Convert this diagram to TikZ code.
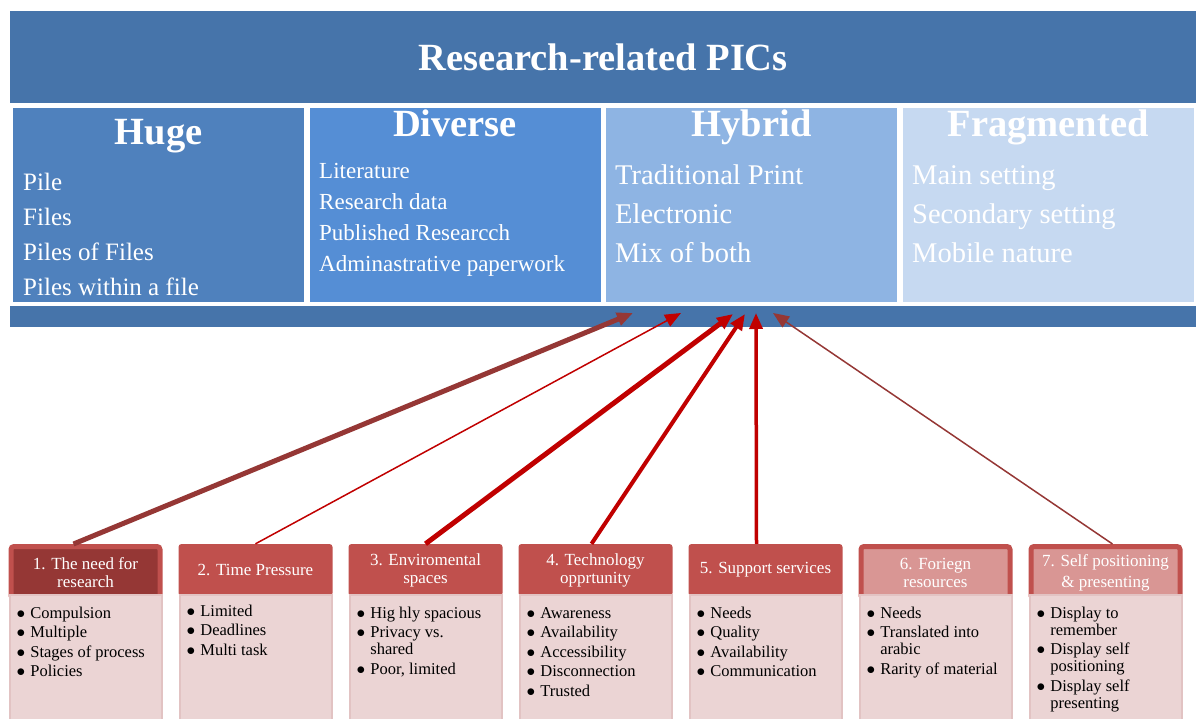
\documentclass[tikz,border=0pt]{standalone}
\usepackage{fontspec}
\setmainfont{Liberation Serif}
\usetikzlibrary{arrows.meta,calc}
\definecolor{bannerBlue}{HTML}{4674AA}
\definecolor{colHuge}{HTML}{4F81BD}
\definecolor{colDiverse}{HTML}{558ED5}
\definecolor{colHybrid}{HTML}{8EB4E3}
\definecolor{colFrag}{HTML}{C6D9F1}
\definecolor{headRed}{HTML}{C0504D}
\definecolor{headDark}{HTML}{953735}
\definecolor{headPink}{HTML}{D99694}
\definecolor{bodyPink}{HTML}{EBD4D4}
\definecolor{bodyEdge}{HTML}{E2C3C3}
\definecolor{arrowDark}{HTML}{953735}
\definecolor{arrowRed}{HTML}{C00000}
\newcommand{\bitem}[1]{$\bullet$ & #1\\[2.5pt]}
\newcommand{\bwrap}[2]{$\bullet$ & #1\\ & #2\\[2.5pt]}

\begin{document}
\begin{tikzpicture}[x=1pt, y=-1pt,
  banner/.style={fill=bannerBlue, inner sep=0pt, minimum width=1186pt},
  panel/.style={inner sep=0pt, minimum width=291pt, minimum height=194pt},
  panelhead/.style={text=white, anchor=base, inner sep=0pt, font=\fontsize{38.5}{40}\selectfont\bfseries},
  panelitem/.style={text=white, anchor=base west, inner sep=0pt},
  hdPlain/.style={fill=headRed, text=white, rounded corners=3pt, minimum width=154pt, minimum height=52pt,
    align=center, inner sep=0pt, font=\fontsize{17}{18}\selectfont},
  hdDark/.style={hdPlain, fill=headDark, draw=headRed, line width=5pt, minimum width=149pt, yshift=-2.5pt},
  hdPink/.style={hdDark, fill=headPink},
  body/.style={fill=bodyPink, draw=bodyEdge, line width=2pt, minimum width=152pt, minimum height=135pt, inner sep=0pt},
  bodytext/.style={anchor=north west, inner sep=0pt, font=\fontsize{16.5}{17}\selectfont},
  link/.style={line width=#1, -{Triangle[length=16pt, width=13pt]}}
]
  \useasboundingbox (0,0) rectangle (1200,718);
  % banner and strip
  \node[banner, minimum height=92pt, text=white, font=\fontsize{38.5}{40}\selectfont\bfseries] (title) at (603,57) {Research-related PICs};
  \node[banner, minimum height=21pt] (strip) at (603,316.5) {};
  % four panels
  \node[panel, fill=colHuge] (huge) at (158.5,205) {};
  \node[panel, fill=colDiverse] (diverse) at (455,205) {};
  \node[panel, fill=colHybrid] (hybrid) at (751.5,205) {};
  \node[panel, fill=colFrag] (frag) at (1048,205) {};
  \node[panelhead] (hugeHd) at (158.5,144) {Huge};
  \node[panelhead] (diverseHd) at (455,136) {Diverse};
  \node[panelhead] (hybridHd) at (751.5,136) {Hybrid};
  \node[panelhead] (fragHd) at (1048,136) {Fragmented};
  \foreach \txt [count=\r from 0] in {Pile,Files,Piles of Files,Piles within a file}
    \node[panelitem, font=\fontsize{25}{28}\selectfont] (hugeIt\r) at (23,190+35*\r) {\txt};
  \foreach \txt [count=\r from 0] in {Literature,Research data,Published Researcch,Adminastrative paperwork}
    \node[panelitem, font=\fontsize{23}{26}\selectfont] (diverseIt\r) at (319,178+31.3*\r) {\txt};
  \foreach \txt [count=\r from 0] in {Traditional Print,Electronic,Mix of both}
    \node[panelitem, font=\fontsize{28.5}{30}\selectfont] (hybridIt\r) at (615,184+39*\r) {\txt};
  \foreach \txt [count=\r from 0] in {Main setting,Secondary setting,Mobile nature}
    \node[panelitem, font=\fontsize{28.5}{30}\selectfont] (fragIt\r) at (912,184+39*\r) {\txt};
  % factor boxes
  \foreach \hd/\sty [count=\i from 0] in {{1. The need for\\research}/hdDark, {2. Time Pressure}/hdPlain,
      {3. Enviromental\\spaces}/hdPlain, {4. Technology\\opprtunity}/hdPlain, {5. Support services}/hdPlain,
      {6. Foriegn\\resources}/hdPink, {7. Self positioning\\[3pt]\& presenting}/hdPink}
    \node[\sty] (h\i) at (85.5+170*\i,570) {\hd};
  \foreach \i in {0,...,6}
    \node[body] (b\i) at (85.5+170*\i,662.5) {};
  \node[bodytext] (t0) at ($(b0.north west)+(8,12)$) {\begin{tabular}{@{}l@{\hspace{5pt}}l@{}}
    \bitem{Compulsion}\bitem{Multiple}\bitem{Stages of process}\bitem{Policies}\end{tabular}};
  \node[bodytext] (t1) at ($(b1.north west)+(8,10)$) {\begin{tabular}{@{}l@{\hspace{5pt}}l@{}}
    \bitem{Limited}\bitem{Deadlines}\bitem{Multi task}\end{tabular}};
  \node[bodytext] (t2) at ($(b2.north west)+(8,12)$) {\begin{tabular}{@{}l@{\hspace{5pt}}l@{}}
    \bitem{Hig hly spacious}\bwrap{Privacy vs.}{shared}\bitem{Poor, limited}\end{tabular}};
  \node[bodytext] (t3) at ($(b3.north west)+(8,12)$) {\begin{tabular}{@{}l@{\hspace{5pt}}l@{}}
    \bitem{Awareness}\bitem{Availability}\bitem{Accessibility}\bitem{Disconnection}\bitem{Trusted}\end{tabular}};
  \node[bodytext] (t4) at ($(b4.north west)+(8,12)$) {\begin{tabular}{@{}l@{\hspace{5pt}}l@{}}
    \bitem{Needs}\bitem{Quality}\bitem{Availability}\bitem{Communication}\end{tabular}};
  \node[bodytext] (t5) at ($(b5.north west)+(8,12)$) {\begin{tabular}{@{}l@{\hspace{5pt}}l@{}}
    \bitem{Needs}\bwrap{Translated into}{arabic}\bitem{Rarity of material}\end{tabular}};
  \node[bodytext] (t6) at ($(b6.north west)+(8,12)$) {\begin{tabular}{@{}l@{\hspace{5pt}}l@{}}
    \bwrap{Display to}{remember}\bwrap{Display self}{positioning}\bwrap{Display self}{presenting}\end{tabular}};
  % arrows into the strip
  \coordinate (p0) at (633,313);
  \coordinate (p1) at (681,313);
  \coordinate (p2) at (733,314);
  \coordinate (p3) at (745,314);
  \coordinate (p4) at (756,313);
  \coordinate (p6) at (773,313);
  \draw[link=5pt, arrowDark] ($(h0.north)+(-12,0)$) -- (p0);
  \draw[link=1.5pt, arrowRed] (h1.north) -- (p1);
  \draw[link=5pt, arrowRed] (h2.north) -- (p2);
  \draw[link=4pt, arrowRed] ($(h3.north)+(-4,0)$) -- (p3);
  \draw[link=3.5pt, arrowRed] ($(h4.north)+(-9,0)$) -- (p4);
  \draw[link=1.5pt, arrowDark] ($(h6.north)+(7,0)$) -- (p6);
\end{tikzpicture}
\end{document}
